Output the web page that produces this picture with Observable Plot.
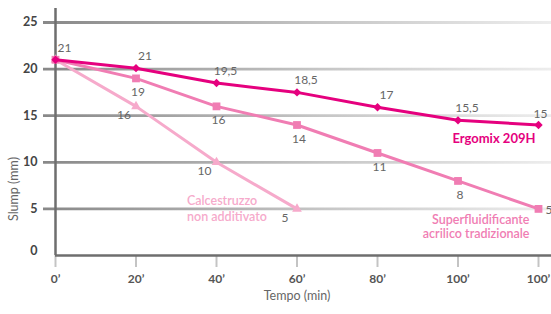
<!DOCTYPE html>
<html><head><meta charset="utf-8">
<script src="https://cdn.jsdelivr.net/npm/d3@7"></script>
<script src="https://cdn.jsdelivr.net/npm/@observablehq/plot@0.6"></script>
<style>html,body{margin:0;padding:0;background:#fff} svg{display:block}</style>
</head><body><div id="chart"></div>
<script>
// ---- data ----
const times = [0, 20, 40, 60, 80, 100, 120];
const timeLabels = ["0’", "20’", "40’", "60’", "80’", "100’", "100’"];
const ergomixValues = [21, 20.1, 18.5, 17.5, 15.9, 14.5, 14];
const ergomixLabels = ["21", "21", "19,5", "18,5", "17", "15,5", "15"];
const superValues = [21, 19, 16, 14, 11, 8, 5];
const superLabels = ["21", "19", "16", "14", "11", "8", "5"];
const calcTimes = [0, 20, 40, 60];
const calcValues = [21, 16, 10, 5];
const calcLabels = ["21", "16", "10", "5"];
const yTicks = [0, 5, 10, 15, 20, 25];
const seriesNames = ["Ergomix 209H", "Superfluidificante\nacrilico tradizionale", "Calcestruzzo\nnon additivato"];
const xTitle = "Tempo (min)";
const yTitle = "Slump (mm)";

// ---- tables ----
const ergo = times.map((t, i) => ({t, v: ergomixValues[i], label: ergomixLabels[i], i}));
const sup = times.map((t, i) => ({t, v: superValues[i], label: superLabels[i], i}));
const calc = calcTimes.map((t, i) => ({t, v: calcValues[i], label: calcLabels[i], i}));

const C_ERGO = "#e5007e", C_SUP = "#f07db3", C_CALC = "#f6aacb";
const LABEL = "#666666";

const gradientDefs = (index, scales, values, dim) => {
  const defs = d3.create("svg:defs");
  const g = defs.append("linearGradient").attr("id", "gridGrad")
    .attr("gradientUnits", "userSpaceOnUse")
    .attr("x1", dim.marginLeft - 12).attr("x2", dim.width).attr("y1", 0).attr("y2", 0);
  g.append("stop").attr("offset", "0%").attr("stop-color", "#888888");
  g.append("stop").attr("offset", "55%").attr("stop-color", "#c6c6c6");
  g.append("stop").attr("offset", "100%").attr("stop-color", "#ededed");
  return defs.node();
};

const chart = Plot.plot({
  width: 551, height: 314,
  marginLeft: 55, marginRight: 13, marginTop: 8, marginBottom: 59,
  x: {domain: [0, 120], axis: null},
  y: {domain: [0, 26.5], axis: null},
  style: {fontFamily: "Lato, 'Open Sans', sans-serif", background: "#fff"},
  marks: [
    gradientDefs,
    Plot.ruleY(yTicks.filter(d => d > 0), {stroke: "url(#gridGrad)", strokeWidth: 2.8, insetLeft: -12, insetRight: -13}),
    Plot.axisX(times, {tickSize: 12, tickPadding: 7, stroke: "#c4c4c4", strokeWidth: 2,
      tickFormat: d => timeLabels[times.indexOf(d)], fill: "#555", fontWeight: "bold", fontSize: 12, label: null}),
    Plot.ruleY([0], {stroke: "#6e6e6e", strokeWidth: 2.5, insetRight: -13}),
    Plot.ruleX([0], {y1: 0, y2: 26.5, stroke: "#6e6e6e", strokeWidth: 2.5}),
    Plot.axisY(yTicks.filter(d => d > 0), {tickSize: 0, tickPadding: 18, fill: "#444", fontWeight: "bold", fontSize: 12.5, label: null}),
    Plot.axisY([0], {tickSize: 0, tickPadding: 18, dy: -5, fill: "#444", fontWeight: "bold", fontSize: 12.5, label: null}),
    Plot.text([xTitle], {frameAnchor: "bottom", dy: 44, fill: LABEL, fontSize: 12.5}),
    Plot.text([yTitle], {frameAnchor: "left", dx: -42, dy: 89, rotate: -90, fill: LABEL, fontSize: 12.5}),

    // Calcestruzzo
    Plot.line(calc, {x: "t", y: "v", stroke: C_CALC, strokeWidth: 3}),
    Plot.dot(calc, {x: "t", y: "v", symbol: "triangle", r: 3.6, fill: C_CALC}),
    Plot.text(calc.filter(d => d.i > 0), {x: "t", y: "v", text: "label", dx: -12, dy: 9, fill: LABEL, fontSize: 12}),
    Plot.text([calc[calc.length - 1]], {x: "t", y: "v", text: () => seriesNames[2], textAnchor: "start", dx: -110, dy: -1, lineHeight: 1.25, fill: C_CALC, fontSize: 12.5, fontWeight: 600}),

    // Superfluidificante
    Plot.line(sup, {x: "t", y: "v", stroke: C_SUP, strokeWidth: 3}),
    Plot.dot(sup, {x: "t", y: "v", symbol: "square", r: 4.4, fill: C_SUP}),
    Plot.text(sup.filter(d => d.i > 0 && d.i < 6), {x: "t", y: "v", text: "label", dx: 2, dy: 14, fill: LABEL, fontSize: 12}),
    Plot.text(sup.filter(d => d.i === 6), {x: "t", y: "v", text: "label", textAnchor: "start", dx: 7, dy: 1, fill: LABEL, fontSize: 12}),
    Plot.text([sup[sup.length - 1]], {x: "t", y: "v", text: () => seriesNames[1], textAnchor: "end", dx: -9, dy: 18, lineHeight: 1.1, fill: C_SUP, fontSize: 12.5, fontWeight: 600}),

    // Ergomix
    Plot.line(ergo, {x: "t", y: "v", stroke: C_ERGO, strokeWidth: 3}),
    Plot.dot(ergo, {x: "t", y: "v", symbol: "diamond2", r: 3.8, fill: C_ERGO}),
    Plot.text(ergo.filter(d => d.i < 6), {x: "t", y: "v", text: "label", dx: 9, dy: -12, fill: LABEL, fontSize: 12}),
    Plot.text(ergo.filter(d => d.i === 6), {x: "t", y: "v", text: "label", dx: 2, dy: -11, fill: LABEL, fontSize: 12}),
    Plot.text([ergo[ergo.length - 1]], {x: "t", y: "v", text: () => seriesNames[0], textAnchor: "end", dx: -3, dy: 14, fill: C_ERGO, fontSize: 13, fontWeight: "bold"})
  ]
});
document.getElementById("chart").append(chart);
</script>
</body></html>
